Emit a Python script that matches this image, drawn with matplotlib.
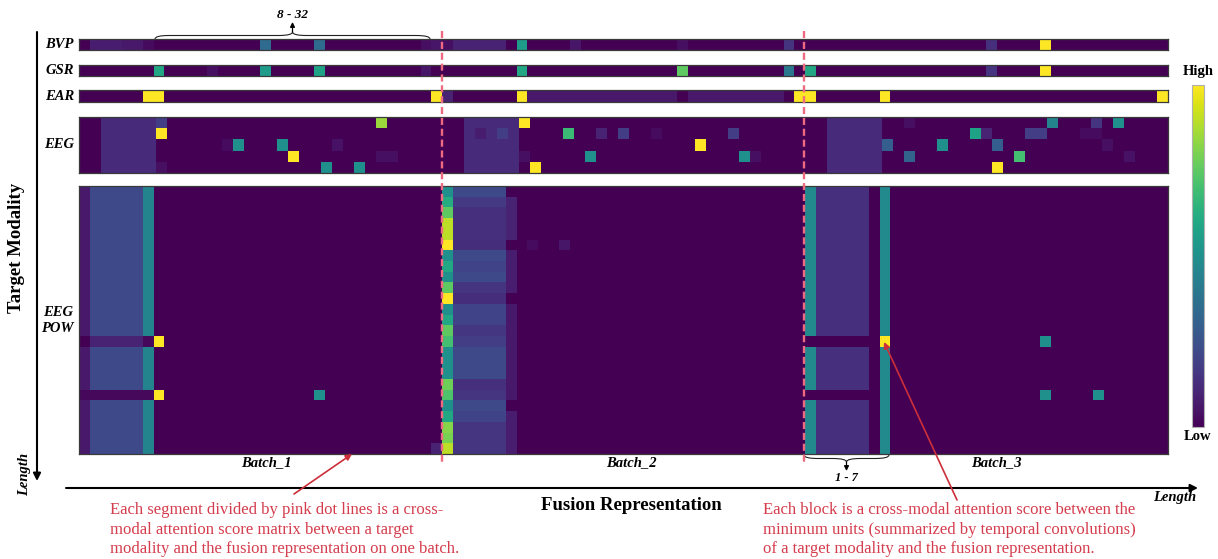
import numpy as np
import matplotlib.pyplot as plt
from matplotlib.path import Path
from matplotlib.patches import PathPatch
from matplotlib.cm import ScalarMappable
from matplotlib.colors import Normalize

W, H = 1218, 559

# ---------------- data (attention scores, 0 = low, 1 = high) ----------------
n_cols = 102       # BVP / GSR / EAR / EEG POW: 3 batches x 34 units
n_cols_eeg = 99    # EEG: 3 batches x 33 units
n_rows_eeg = 5
n_rows_pow = 25
batch_names = ['Batch_1', 'Batch_2', 'Batch_3']

# single-row modalities: {column: score}, every other column is 0
bvp_cells = {1: .08, 2: .08, 3: .08, 4: .07, 5: .07, 6: .03, 17: .35, 22: .35,
             32: .04, 33: .06, 34: .04, 35: .1, 36: .1, 37: .1, 38: .1, 39: .1,
             41: .55, 46: .06, 56: .04, 66: .15, 85: .14, 90: 1.0}
gsr_cells = {7: .6, 12: .04, 17: .55, 22: .58, 32: .06, 41: .6, 56: .75,
             66: .4, 68: .6, 85: .15, 90: 1.0}
ear_cells = {6: 1.0, 7: 1.0, 33: 1.0, 34: .1, 41: 1.0, 67: 1.0, 68: 1.0,
             75: 1.0, 101: 1.0}
ear_faint_cols = list(range(42, 56)) + list(range(57, 66))
ear_faint_value = 0.07

# EEG: a lighter block of 5 units in every batch + isolated cells
eeg_block_cols = [2, 35, 68]
eeg_block_value = 0.12
eeg_cells = [  # (row, col, score)
    (0, 7, .18), (0, 27, .85), (0, 40, 1.0), (0, 75, .04), (0, 88, .45),
    (0, 92, .15), (0, 94, .5),
    (1, 7, 1.0), (1, 36, .08), (1, 38, .18), (1, 44, .68), (1, 47, .1),
    (1, 49, .18), (1, 52, .03), (1, 59, .18), (1, 81, .58), (1, 82, .1),
    (1, 86, .18), (1, 87, .18), (1, 91, .03), (1, 92, .03),
    (2, 13, .03), (2, 14, .5), (2, 18, .5), (2, 23, .05), (2, 56, 1.0),
    (2, 73, .3), (2, 78, .5), (2, 83, .3), (2, 93, .04),
    (3, 19, 1.0), (3, 27, .04), (3, 28, .04), (3, 40, .04), (3, 46, .5),
    (3, 60, .5), (3, 61, .04), (3, 75, .32), (3, 85, .7), (3, 95, .05),
    (4, 7, .04), (4, 22, .5), (4, 25, .5), (4, 41, 1.0), (4, 83, 1.0),
]

# EEG POW (25 rows x 102 cols)
pow_b1_cols = [.07, .22, .22, .22, .22, .22, .45]          # cols 0-6
pow_b1_row14 = [0.0, .1, .1, .1, .1, .1, .02]
pow_b1_row19 = [.02, .02, .02, .02, .02, .02, .02]
pow_b2_col34 = [.5, .62, .75, .9, .9, 1.0, .5, .6, .5, .75, 1.0, .5, .6,
                .75, .7, .5, .5, .5, .78, .72, .5, .6, .82, .8, .9]
pow_b2_block = [.22, .17, .14, .14, .14, .13, .22, .2, .22, .15, .13, .2, .2,
                .16, .18, .22, .22, .22, .14, .15, .22, .2, .15, .15, .15]   # cols 35-39
pow_b2_col40 = [0, .1, .1, .1, .1, 0, .08, .08, .08, .08, 0, .07, .07,
                .07, .07, .07, .07, .07, .07, .07, 0, .08, .08, .08, .08]
pow_b3_cols = [.48, .14, .14, .14, .14, .14, 0.0, .48]      # cols 68-75
pow_b3_row14 = [0, 0, 0, 0, 0, 0, 0, 1.0]
pow_b3_row19 = [0, 0, 0, 0, 0, 0, 0, .48]
pow_cells = [(14, 7, 1.0), (19, 7, 1.0), (19, 22, .5), (24, 33, .1),
             (5, 42, .03), (5, 45, .06), (14, 90, .5), (19, 90, .5), (19, 95, .5)]

# ---------------- build matrices ----------------
def one_row(cells, extra_cols=(), extra_val=0.0):
    row = np.zeros(n_cols)
    row[list(extra_cols)] = extra_val
    for c, v in cells.items():
        row[c] = v
    return row[None, :]

bvp = one_row(bvp_cells)
gsr = one_row(gsr_cells)
ear = one_row(ear_cells, ear_faint_cols, ear_faint_value)

eeg = np.zeros((n_rows_eeg, n_cols_eeg))
for c in eeg_block_cols:
    eeg[:, c:c + 5] = eeg_block_value
for r, c, v in eeg_cells:
    eeg[r, c] = v

eeg_pow = np.zeros((n_rows_pow, n_cols))
eeg_pow[:, 0:7] = pow_b1_cols
eeg_pow[14, 0:7] = pow_b1_row14
eeg_pow[19, 0:7] = pow_b1_row19
eeg_pow[:, 34] = pow_b2_col34
eeg_pow[:, 35:40] = np.array(pow_b2_block)[:, None]
eeg_pow[:, 40] = pow_b2_col40
eeg_pow[:, 68:76] = pow_b3_cols
eeg_pow[14, 68:76] = pow_b3_row14
eeg_pow[19, 68:76] = pow_b3_row19
for r, c, v in pow_cells:
    eeg_pow[r, c] = v

# ---------------- figure ----------------
plt.rcParams['font.family'] = ['Liberation Serif', 'DejaVu Serif']
fig = plt.figure(figsize=(W / 100, H / 100), dpi=100)


def box(x0, y0, x1, y1):
    # pixel box (y down) -> figure fraction rect
    return [x0 / W, 1 - y1 / H, (x1 - x0) / W, (y1 - y0) / H]


x_left, x_right = 78.7, 1167.5
panels = [('BVP', bvp, 39, 50), ('GSR', gsr, 64.5, 76), ('EAR', ear, 90, 102),
          ('EEG', eeg, 117, 173), ('EEG\nPOW', eeg_pow, 186, 454)]
norm = Normalize(0, 1)
for name, mat, y0, y1 in panels:
    ax = fig.add_axes(box(x_left, y0, x_right, y1))
    ax.imshow(mat, cmap='viridis', norm=norm, aspect='auto', interpolation='nearest')
    ax.set_xticks([])
    ax.set_yticks([])
    for s in ax.spines.values():
        s.set_color('#3a3a3a')
        s.set_linewidth(0.9)
    fig.text(74 / W, 1 - (y0 + y1) / 2 / H, name, ha='right', va='center',
             fontsize=10.5, fontweight='bold', fontstyle='italic',
             multialignment='center', linespacing=1.3)

# colorbar
cax = fig.add_axes(box(1192, 85, 1204, 427))
cb = fig.colorbar(ScalarMappable(norm=norm, cmap='viridis'), cax=cax)
cb.set_ticks([])
cb.outline.set_edgecolor('#b0b0b0')
cb.outline.set_linewidth(0.8)
fig.text(1198 / W, 1 - 71 / H, 'High', ha='center', va='center', fontsize=10.5, fontweight='bold')
fig.text(1198 / W, 1 - 437 / H, 'Low', ha='center', va='center', fontsize=10.5, fontweight='bold')

# overlay in pixel coordinates for lines, braces and notes
ov = fig.add_axes([0, 0, 1, 1], zorder=5)
ov.set_xlim(0, W)
ov.set_ylim(H, 0)
ov.axis('off')

# pink batch separators
for xb in [442.3, 803.5]:
    ov.plot([xb, xb], [31, 462], color='#ee6a80', lw=1.7, ls=(0, (3, 1.6)))

# batch labels
for name, xc in zip(batch_names, [266, 631, 996]):
    ov.text(xc, 463, name, ha='center', va='center', fontsize=10.5,
            fontweight='bold', fontstyle='italic')


def brace(x0, x1, y, h):
    xm = (x0 + x1) / 2
    q = min(14, (x1 - x0) / 6)
    ym, yt = y - h / 2, y - h
    verts = [(x0, y), (x0, ym), (x0 + q, ym), (xm - q, ym), (xm, ym), (xm, yt),
             (xm, ym), (xm + q, ym), (x1 - q, ym), (x1, ym), (x1, y)]
    codes = [Path.MOVETO, Path.CURVE3, Path.CURVE3, Path.LINETO, Path.CURVE3,
             Path.CURVE3, Path.CURVE3, Path.CURVE3, Path.LINETO, Path.CURVE3, Path.CURVE3]
    ov.add_patch(PathPatch(Path(verts, codes), fc='none', ec='#222222', lw=0.8))
    return xm, yt


def arrow(x0, y0, x1, y1, color='black', lw=1.0, ms=8):
    ov.annotate('', xy=(x1, y1), xytext=(x0, y0),
                arrowprops=dict(arrowstyle='-|>', color=color, lw=lw,
                                mutation_scale=ms, shrinkA=0, shrinkB=0))


xm, yt = brace(155, 430, 39, 7)
arrow(xm, yt, xm, 22, lw=0.9, ms=7)
ov.text(xm, 15, '8 - 32', ha='center', va='center', fontsize=9.5,
        fontweight='bold', fontstyle='italic')

xm, yt = brace(804, 889, 455, -7)
arrow(xm, yt, xm, 471, lw=0.9, ms=7)
ov.text(xm, 478, '1 - 7', ha='center', va='center', fontsize=9,
        fontweight='bold', fontstyle='italic')

# axes arrows
arrow(37, 32, 37, 481, lw=1.5, ms=11)
arrow(66, 488, 1198, 488, lw=1.5, ms=11)
ov.text(25, 474, 'Length', rotation=90, ha='center', va='center', fontsize=10.5,
        fontweight='bold', fontstyle='italic')
ov.text(1175, 497, 'Length', ha='center', va='center', fontsize=10.5,
        fontweight='bold', fontstyle='italic')
ov.text(17, 248, 'Target Modality', rotation=90, ha='center', va='center',
        fontsize=13.5, fontweight='bold')
ov.text(631, 505, 'Fusion Representation', ha='center', va='center',
        fontsize=13.5, fontweight='bold')

# red notes
red = '#d43d4d'
ov.text(110, 502, 'Each segment divided by pink dot lines is a cross-\n'
        'modal attention score matrix between a target\n'
        'modality and the fusion representation on one batch.',
        ha='left', va='top', fontsize=12, color=red, linespacing=1.3)
ov.text(763, 502, 'Each block is a cross-modal attention score between the\n'
        'minimum units (summarized by temporal convolutions)\n'
        'of a target modality and the fusion representation.',
        ha='left', va='top', fontsize=12, color=red, linespacing=1.3)
arrow(294, 494, 352, 454, color='#cc2f3a', lw=1.2, ms=9)
arrow(957, 500, 884, 342, color='#cc2f3a', lw=1.2, ms=9)

fig.savefig('out.png', dpi=100)
